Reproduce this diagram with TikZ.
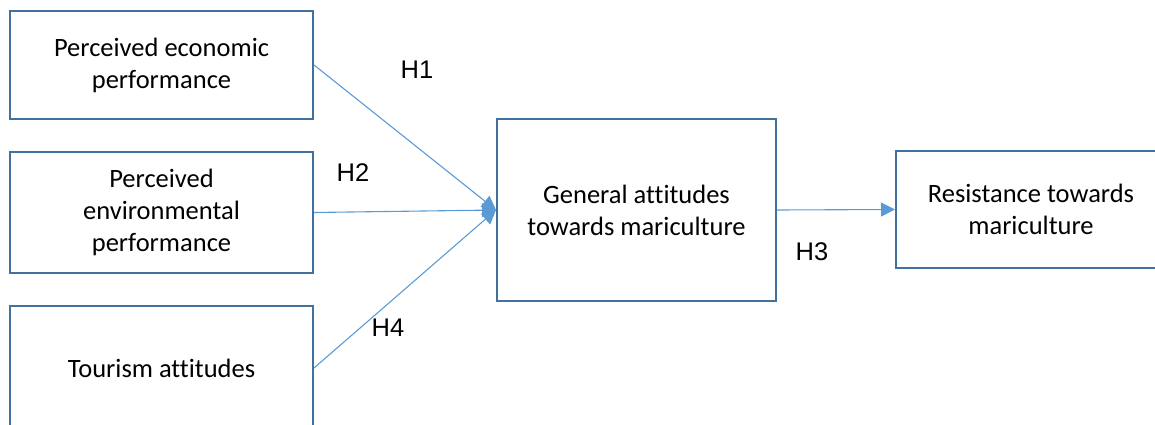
\documentclass[tikz,border=0pt]{standalone}
\usepackage{fontspec}
\setmainfont{Carlito}[Ligatures=NoCommon]
\newfontfamily\hfont{Liberation Sans}
\usetikzlibrary{arrows.meta}
\definecolor{boxblue}{HTML}{41719C}
\definecolor{arrowblue}{HTML}{5B9BD5}

\begin{document}
\begin{tikzpicture}[x=1pt, y=-1pt,
    factor/.style={draw=boxblue, line width=2pt, align=center,
      font=\fontsize{26.5}{32}\selectfont, inner sep=0pt},
    link/.style={draw=arrowblue, line width=1.1pt,
      -{Triangle[length=14pt, width=14pt]}},
    hyp/.style={font=\hfont\fontsize{25.5}{28}\selectfont, inner sep=0pt}
  ]
  \useasboundingbox (0,0) rectangle (1155,425);
  \clip (0,0) rectangle (1155,425);

  % the three predictors
  \node[factor, minimum width=303pt, minimum height=108pt] (econ) at (161.5,65)
    {Perceived economic\\performance};
  \node[factor, minimum width=303pt, minimum height=121pt] (envir) at (161.5,212.5)
    {Perceived\\environmental\\performance};
  \node[factor, minimum width=303pt, minimum height=124pt] (tour) at (161.5,368)
    {Tourism attitudes};

  % mediator and outcome
  \node[factor, minimum width=279pt, minimum height=182pt] (general) at (636.5,210)
    {General attitudes\\towards mariculture};
  \node[factor, minimum width=270pt, minimum height=117pt] (resist) at (1031,209.5)
    {Resistance towards\\mariculture};

  \draw[link] (econ.east) -- (general.west);
  \draw[link] (envir.east) -- (general.west);
  \draw[link] (tour.east) -- (general.west);
  \draw[link] (general.east) -- (resist.west);

  \node[hyp] (h1) at (417,70) {H1};
  \node[hyp] (h2) at (353,173) {H2};
  \node[hyp] (h4) at (388,328) {H4};
  \node[hyp] (h3) at (812,252) {H3};
\end{tikzpicture}
\end{document}
